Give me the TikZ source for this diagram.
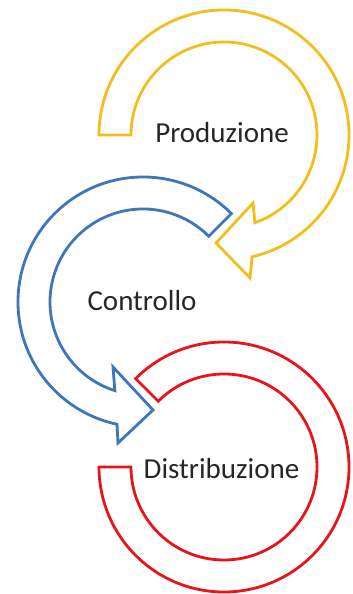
\documentclass[tikz,border=0pt]{standalone}
\usepackage{fontspec}
\setmainfont{Carlito}
\usetikzlibrary{calc}
\definecolor{ygold}{HTML}{F2BE1E}
\definecolor{bblue}{HTML}{3C78B9}
\definecolor{rred}{HTML}{E8141C}
\tikzset{
  band/.style={line width=2.8pt, line join=miter, fill=white},
  lbl/.style={anchor=base, inner sep=0pt, text=black!85, font=\fontsize{29}{35}\selectfont}
}
\begin{document}
\begin{tikzpicture}[x=1pt,y=1pt]
\useasboundingbox (0,0) rectangle (353,594);
% centres
\coordinate (yc) at (224,459);
\coordinate (bc) at (143,292);
\coordinate (rc) at (224,127);
% yellow arrow
\draw[band, draw=ygold] (yc) ++(180:125) arc[start angle=180, end angle=-77, radius=125]
  -- (250,316) -- (216,351) -- (253,391) -- ($(yc)+(-70.6:93)$)
  arc[start angle=-70.6, end angle=180, radius=93] -- cycle;
% blue arrow
\draw[band, draw=bblue] (bc) ++(45:125) arc[start angle=45, end angle=258, radius=125]
  -- (118,151) -- (153,184) -- (113,227) -- ($(bc)+(252.4:93)$)
  arc[start angle=252.4, end angle=45, radius=93] -- cycle;
% red band
\draw[band, draw=rred] (rc) ++(135:125) arc[start angle=135, end angle=-180, radius=125]
  -- ($(rc)+(180:93)$) arc[start angle=-180, end angle=135, radius=93] -- cycle;
\node[lbl] (p) at (222,451) {Produzione};
\node[lbl] (c) at (142,283) {Controllo};
\node[lbl] (d) at (221.5,115) {Distribuzione};
\end{tikzpicture}
\end{document}
